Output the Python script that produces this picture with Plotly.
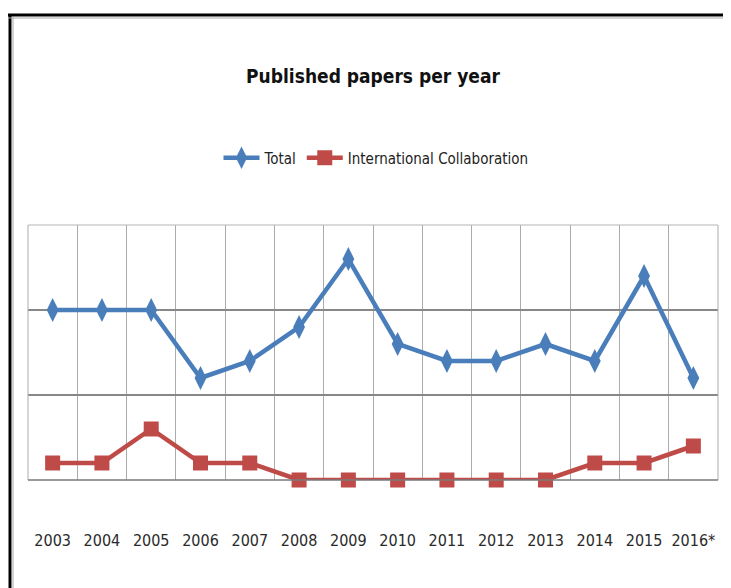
import plotly.graph_objects as go

years = ["2003", "2004", "2005", "2006", "2007", "2008", "2009", "2010",
         "2011", "2012", "2013", "2014", "2015", "2016*"]
total = [10, 10, 10, 6, 7, 9, 13, 8, 7, 7, 8, 7, 12, 6]
intl = [1, 1, 3, 1, 1, 0, 0, 0, 0, 0, 0, 1, 1, 2]

# page body has an 8px margin, so work in page pixels minus 8
OFF = 8
W, H = 731 - OFF, 588 - OFF
L, R, T, B = 28 - OFF, 13, 225 - OFF, 108
pw, ph = W - L - R, H - T - B

def px(x):
    return (x - OFF - L) / pw

def py(y):
    return (H - B - (y - OFF)) / ph

FONT = "DejaVu Sans Condensed, Liberation Sans Narrow, sans-serif"
BLUE = "#4A7EBB"
RED = "#BE4B48"
HGRID = "#878787"
VGRID = "#ababab"

fig = go.Figure()
fig.add_trace(go.Scatter(
    x=years, y=total, name="Total", mode="lines+markers",
    line=dict(color=BLUE, width=4.5),
    marker=dict(symbol="diamond-tall", size=17, color=BLUE),
    cliponaxis=False,
))
fig.add_trace(go.Scatter(
    x=years, y=intl, name="International Collaboration", mode="lines+markers",
    line=dict(color=RED, width=4.5),
    marker=dict(symbol="square", size=15, color=RED),
    cliponaxis=False,
))

fig.update_layout(
    width=W, height=H,
    margin=dict(l=L, r=R, t=T, b=B),
    paper_bgcolor="white", plot_bgcolor="white",
    title=dict(text="<b>Published papers per year</b>", x=px(373), xanchor="center",
               xref="paper", y=1 - (76 - OFF) / H, yanchor="middle",
               font=dict(family=FONT, size=19, color="#111111")),
    legend=dict(orientation="h", x=px(376), xanchor="center", y=py(158),
                yanchor="middle", font=dict(family=FONT, size=15, color="#222222"),
                itemwidth=36, tracegroupgap=0),
    showlegend=True,
    font=dict(family=FONT),
)
fig.update_xaxes(
    type="category", range=[-0.5, 13.5], tickson="boundaries", showgrid=True,
    gridcolor=VGRID, gridwidth=1, showline=False,
    ticks="", tickangle=0,
    tickfont=dict(family=FONT, size=16, color="#2a2a2a"),
    ticklabelstandoff=49,
)
fig.update_yaxes(
    range=[0, 15], dtick=5, showgrid=True, gridcolor=HGRID, gridwidth=1.5,
    showticklabels=False, showline=False, zeroline=False, ticks="",
)

# plot area border
fig.add_shape(type="line", xref="paper", yref="paper", x0=0, x1=1, y0=1, y1=1,
              line=dict(color="#b5b5b5", width=1))
fig.add_shape(type="line", xref="paper", yref="paper", x0=0, x1=0, y0=0, y1=1,
              line=dict(color=VGRID, width=1))
fig.add_shape(type="line", xref="paper", yref="paper", x0=1, x1=1, y0=0, y1=1,
              line=dict(color=VGRID, width=1))
fig.add_shape(type="line", xref="paper", yref="paper", x0=0, x1=1, y0=0, y1=0,
              line=dict(color="#7a7a7a", width=1.5))

# outer frame lines
fig.add_shape(type="line", xref="paper", yref="paper",
              x0=px(8), x1=px(731), y0=py(15), y1=py(15),
              line=dict(color="black", width=3))
fig.add_shape(type="line", xref="paper", yref="paper",
              x0=px(10), x1=px(10), y0=py(14), y1=py(588),
              line=dict(color="black", width=3))
fig.add_shape(type="line", xref="paper", yref="paper",
              x0=px(8), x1=px(731), y0=py(18), y1=py(18),
              line=dict(color="#aaaaaa", width=1))
fig.add_shape(type="line", xref="paper", yref="paper",
              x0=px(13), x1=px(13), y0=py(17), y1=py(588),
              line=dict(color="#aaaaaa", width=1))

fig.write_html("out.html")
